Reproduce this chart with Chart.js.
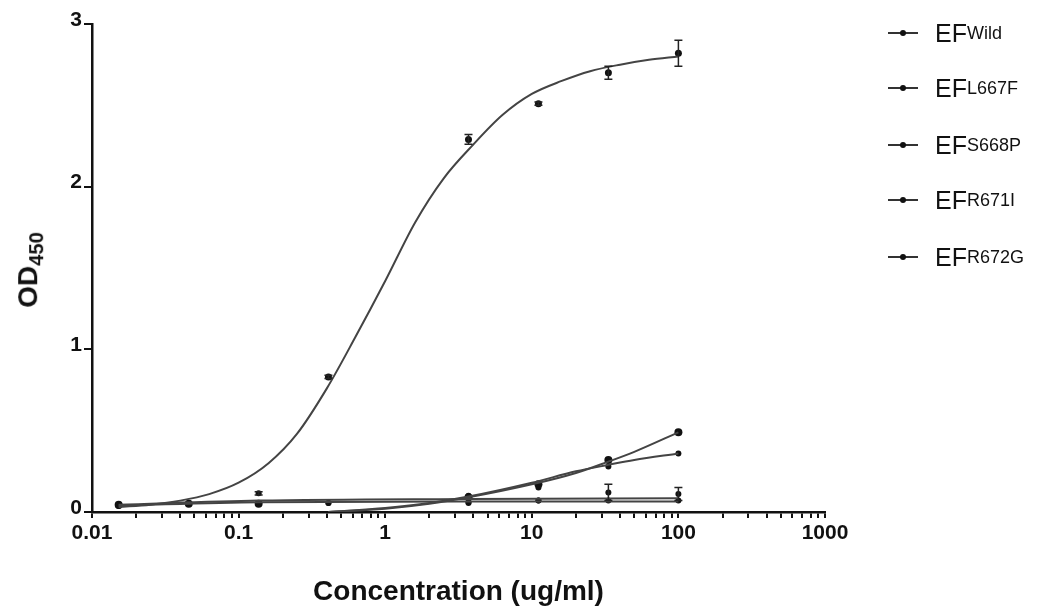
<!DOCTYPE html>
<html lang="en">
<head>
  <meta charset="UTF-8">
  <title>EF binding curves</title>
  <script src="https://cdn.jsdelivr.net/npm/chart.js"></script>
  <style>
    body {
      margin: 0;
      background: #fff;
      font-family: "Liberation Sans", Arial, sans-serif;
    }
    #wrap {
      position: relative;
      width: 1050px;
      height: 616px;
    }
    #ytitle {
      position: absolute;
      left: 30px;
      top: 270px;
      transform: translate(-50%, -50%) rotate(-90deg);
      font-weight: bold;
      font-size: 28px;
      color: #111;
      white-space: nowrap;
    }
    #ytitle sub, .item sub {
      font-size: 0.72em;
      vertical-align: -0.28em;
    }
    .item {
      position: absolute;
      left: 888px;
      height: 30px;
      display: flex;
      align-items: center;
      font-size: 25px;
      color: #111;
      white-space: nowrap;
    }
    .swatch {
      position: relative;
      width: 30px;
      height: 2px;
      background: #333;
      margin-right: 17px;
    }
    .swatch::after {
      content: "";
      position: absolute;
      left: 12px;
      top: -2px;
      width: 6px;
      height: 6px;
      border-radius: 50%;
      background: #111;
    }
  </style>
</head>
<body>
  <div id="wrap">
    <canvas id="chart" width="1050" height="616"></canvas>
    <div id="ytitle">OD<sub>450</sub></div>
    <div id="legend"></div>
  </div>

  <script>
    // dilution series (ug/ml)
    const conc = [0.0152, 0.0457, 0.137, 0.41, 3.7, 11.1, 33.3, 100];

    // measured means (null = no point shown)
    const wildPts  = [0.04, null, null, 0.83, 2.29, 2.51, 2.70, 2.82];
    const wildErr  = [0, 0, 0, 0.01, 0.03, 0.01, 0.04, 0.08];
    const l667fPts = [0.045, 0.05, 0.05, null, 0.09, 0.17, 0.32, 0.49];
    const s668pPts = [null, null, null, null, 0.10, 0.15, 0.28, 0.36];
    const r671iPts = [0.04, 0.05, 0.115, 0.055, 0.055, 0.07, 0.12, 0.11];
    const r671iErr = [0, 0, 0.01, 0, 0, 0, 0.05, 0.04];
    const r672gPts = [0.045, 0.05, 0.05, 0.055, 0.06, 0.07, 0.07, 0.07];

    // fitted curves
    const wildFitX = [0.0152, 0.025, 0.04, 0.063, 0.1, 0.16, 0.25, 0.4, 0.63, 1, 1.6, 2.5, 4, 6.3, 10, 16, 25, 40, 63, 100];
    const wildFitY = [0.03, 0.045, 0.07, 0.11, 0.18, 0.30, 0.48, 0.76, 1.08, 1.42, 1.78, 2.05, 2.26, 2.44, 2.57, 2.65, 2.71, 2.75, 2.78, 2.80];
    const riseFitX = [0.41, 1, 2, 3.7, 10, 20, 33.3, 50, 100];
    const l667fFitY = [0.0, 0.02, 0.05, 0.09, 0.17, 0.24, 0.31, 0.37, 0.49];
    const s668pFitY = [0.0, 0.025, 0.055, 0.095, 0.18, 0.25, 0.29, 0.32, 0.36];
    const flatFitX = [0.0152, 0.137, 3.7, 100];
    const r671iFitY = [0.045, 0.07, 0.08, 0.085];
    const r672gFitY = [0.04, 0.06, 0.065, 0.065];

    const names = ['EF', 'EF', 'EF', 'EF', 'EF'];
    const subs = ['Wild', 'L667F', 'S668P', 'R671I', 'R672G'];
    const xTickLabels = ['0.01', '0.1', '1', '10', '100', '1000'];
    const yTickLabels = ['0', '1', '2', '3'];

    function pts(xs, ys) {
      return xs.map((x, i) => ({ x, y: ys[i] })).filter(p => p.y !== null);
    }

    function fit(xs, ys) {
      return {
        type: 'line',
        data: pts(xs, ys),
        borderColor: '#444',
        borderWidth: 2,
        pointRadius: 0,
        cubicInterpolationMode: 'monotone',
        fill: false
      };
    }

    function marks(ys, err, r) {
      const data = [], e = [];
      conc.forEach((x, i) => {
        if (ys[i] === null) return;
        data.push({ x, y: ys[i] });
        e.push(err ? err[i] : 0);
      });
      return {
        type: 'scatter',
        data,
        err: e,
        showLine: false,
        pointRadius: r,
        pointBackgroundColor: '#111',
        pointBorderColor: '#111',
        pointBorderWidth: 0
      };
    }

    // vertical error bars with caps, placed through the chart scales
    const errorBars = {
      id: 'errorBars',
      afterDatasetsDraw(chart) {
        const { ctx, scales: { x, y } } = chart;
        ctx.save();
        ctx.strokeStyle = '#222';
        ctx.lineWidth = 1.5;
        chart.data.datasets.forEach(ds => {
          if (!ds.err) return;
          ds.data.forEach((p, j) => {
            const e = ds.err[j];
            if (!e) return;
            const px = x.getPixelForValue(p.x);
            const top = y.getPixelForValue(p.y + e);
            const bot = y.getPixelForValue(p.y - e);
            ctx.beginPath();
            ctx.moveTo(px, top); ctx.lineTo(px, bot);
            ctx.moveTo(px - 4, top); ctx.lineTo(px + 4, top);
            ctx.moveTo(px - 4, bot); ctx.lineTo(px + 4, bot);
            ctx.stroke();
          });
        });
        ctx.restore();
      }
    };

    const tickFont = { family: '"Liberation Sans", Arial, sans-serif', size: 21, weight: 'bold' };

    new Chart(document.getElementById('chart').getContext('2d'), {
      data: {
        datasets: [
          fit(wildFitX, wildFitY),
          fit(riseFitX, l667fFitY),
          fit(riseFitX, s668pFitY),
          fit(flatFitX, r671iFitY),
          fit(flatFitX, r672gFitY),
          marks(wildPts, wildErr, 3.5),
          marks(l667fPts, null, 4),
          marks(s668pPts, null, 3),
          marks(r671iPts, r671iErr, 3),
          marks(r672gPts, null, 3)
        ]
      },
      options: {
        responsive: false,
        animation: false,
        layout: { padding: { top: 24, right: 225, left: 0, bottom: 0 } },
        plugins: { legend: { display: false }, tooltip: { enabled: false } },
        scales: {
          x: {
            type: 'logarithmic',
            position: 'bottom',
            min: 0.01,
            max: 1000,
            border: { color: '#111', width: 2.5 },
            grid: { drawOnChartArea: false, tickLength: 6, color: '#111', lineWidth: 2 },
            afterBuildTicks: s => {
              const t = [];
              for (let e = -2; e <= 2; e++) {
                for (let k = 1; k <= 9; k++) t.push({ value: k * Math.pow(10, e) });
              }
              t.push({ value: 1000 });
              s.ticks = t;
            },
            afterFit: s => { s.height = 104; },
            ticks: {
              autoSkip: false,
              maxRotation: 0,
              padding: 3,
              color: '#111',
              font: tickFont,
              callback: v => {
                const l = Math.log10(v);
                return Math.abs(l - Math.round(l)) < 1e-6 ? xTickLabels[Math.round(l) + 2] : '';
              }
            },
            title: {
              display: true,
              text: 'Concentration (ug/ml)',
              color: '#111',
              font: { family: '"Liberation Sans", Arial, sans-serif', size: 28, weight: 'bold' },
              padding: { top: 4, bottom: 7 }
            }
          },
          y: {
            min: 0,
            max: 3,
            border: { color: '#111', width: 2.5 },
            grid: { drawOnChartArea: false, tickLength: 8, color: '#111', lineWidth: 2 },
            afterFit: s => { s.width = 92; },
            ticks: {
              stepSize: 1,
              padding: 2,
              labelOffset: -4,
              color: '#111',
              font: tickFont,
              callback: v => yTickLabels[v]
            }
          }
        }
      },
      plugins: [errorBars]
    });

    // legend with subscripts
    const legend = document.getElementById('legend');
    const rowY = [33, 88, 145, 200, 257];
    subs.forEach((s, i) => {
      const item = document.createElement('div');
      item.className = 'item';
      item.style.top = (rowY[i] - 15) + 'px';
      item.innerHTML = '<span class="swatch"></span>' + names[i] + '<sub>' + s + '</sub>';
      legend.appendChild(item);
    });
  </script>
</body>
</html>
